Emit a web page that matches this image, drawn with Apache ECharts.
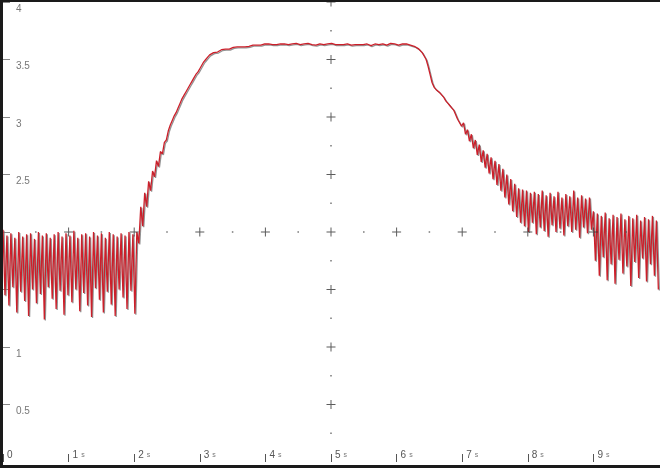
<!DOCTYPE html>
<html>
<head>
<meta charset="utf-8">
<script src="https://cdn.jsdelivr.net/npm/echarts@6/dist/echarts.min.js"></script>
<style>html,body{margin:0;padding:0;background:#fff;}#c{width:660px;height:468px;}</style>
</head>
<body>
<div id="c"></div>
<script>
// sampling step of the trace, seconds
const SAMPLE_STEP = 0.03;
// trace values (V), segment by segment
const baseline = [2.02,1.45,1.97,1.36,1.99,1.52,1.95,1.30,2.00,1.48,1.96,1.40,1.98,1.27,1.99,1.50,1.94,1.38,2.00,1.46,
  1.97,1.24,1.99,1.52,1.95,1.42,1.98,1.33,2.00,1.49,1.96,1.28,1.99,1.45,1.97,1.39,2.01,1.50,1.95,1.31,
  1.98,1.47,1.99,1.36,1.96,1.26,2.00,1.51,1.97,1.41,1.99,1.30,1.95,1.48,2.00,1.37,1.98,1.27,1.96,1.50,
  1.99,1.43,1.97,1.33,2.00,1.49,1.98,1.29,2.00];
const rise = [1.90,2.22,2.05,2.34,2.22,2.44,2.36,2.53,2.48,2.62,
  2.57,2.70,2.68,2.78,2.80,2.88,2.93,2.97,3.01,3.04,
  3.08,3.12,3.16,3.19,3.22,3.25,3.28,3.31,3.34,3.37,
  3.39,3.42,3.45,3.48,3.50,3.52,3.54,3.555,3.56,3.57,
  3.565,3.58,3.585,3.58,3.59,3.595,3.59,3.60,3.605];
const plateau = [3.60,3.61,3.605,3.61,3.615,3.61,3.62,3.615,3.62,3.625,3.62,3.625,3.63,3.625,3.63,3.635,
  3.63,3.635,3.64,3.63,3.635,3.63,3.64,3.635,3.63,3.635,
  3.64,3.63,3.625,3.635,3.63,3.64,3.635,3.63,3.625,3.635,
  3.63,3.64,3.635,3.63,3.635,3.625,3.63,3.635,3.64,3.63,
  3.625,3.635,3.63,3.64,3.635,3.63,3.625,3.63,3.635,3.63,
  3.64,3.635,3.63,3.625,3.635,3.63,3.625,3.63,3.635,3.63,
  3.625,3.635,3.63,3.62,3.63,3.635,3.625,3.63,3.64,3.635,
  3.63,3.625,3.635,3.64,3.63,3.635,3.63,3.625,3.63,3.635,
  3.64,3.635,3.63,3.625,3.62,3.615,3.605,3.595];
const fall = [3.58,3.56,3.53,3.50,3.44,3.37,3.30,3.26,3.24,3.23,3.21,3.19,3.17,3.14,3.12,3.10,3.08,3.06,
  3.05,2.98,2.99,2.92,2.95,2.85,2.89,2.79,2.85,2.73,2.80,2.67,2.76,2.61,2.71,2.56,2.68,2.51,2.65,2.46,
  2.62,2.41,2.59,2.36,2.55,2.30,2.50,2.24,2.46,2.18,2.42,2.13,2.38,2.08];
const bandHigh = [2.37,2.05,2.36,2.00,2.34,2.08,2.35,1.98,2.33,2.04,2.36,2.01,2.32,1.96,2.34,2.06,2.31,2.00,
  2.35,2.03,2.30,1.97,2.33,2.05,2.31,2.00,2.36,2.02,2.30,1.95,2.32,2.04,2.29,1.99,2.30,2.02];
const bandLow = [2.18,1.75,2.16,1.62,2.14,1.78,2.17,1.58,2.12,1.72,2.15,1.55,2.13,1.76,2.16,1.64,2.11,1.70,
  2.14,1.53,2.12,1.74,2.15,1.60,2.10,1.77,2.13,1.57,2.11,1.72,2.14,1.62,2.10,1.50];

// axis ticks / crosshair graticule
const yTickLabels = {'4':'4','3.5':'3.5','3':'3','2.5':'2.5','1':'1','0.5':'0.5'};
const crossPlusY = [0.5,1,1.5,2.5,3,3.5,4];
const crossDotY = [0.25,0.75,1.25,1.75,2.25,2.75,3.25,3.75];
const crossPlusX = [1,2,3,4,5,6,7,8,9];
const crossDotX = [0.5,1.5,2.5,3.5,4.5,5.5,6.5,7.5,8.5,9.5];
const CENTER_X = 5, CENTER_Y = 2;

const trace = [].concat(baseline, rise, plateau, fall, bandHigh, bandLow);
const traceData = trace.map((v, i) => [Math.round(i * SAMPLE_STEP * 1000) / 1000, v]);

const plusData = crossPlusY.map(y => [CENTER_X, y]).concat(crossPlusX.map(x => [x, CENTER_Y]));
const dotData = crossDotY.map(y => [CENTER_X, y]).concat(crossDotX.map(x => [x, CENTER_Y]));

const chart = echarts.init(document.getElementById('c'), null, {renderer: 'canvas'});
chart.setOption({
  animation: false,
  backgroundColor: '#fff',
  grid: {left: 3, right: 1, top: 2, bottom: 6, containLabel: false},
  xAxis: {
    type: 'value', min: 0, max: 10, interval: 1,
    axisLine: {show: false},
    splitLine: {show: false},
    axisTick: {show: true, inside: true, length: 8, lineStyle: {color: '#555', width: 1}},
    axisLabel: {
      inside: true, margin: 2, align: 'left', verticalAlign: 'bottom',
      showMaxLabel: false,
      formatter: v => v === 0 ? '{n|0}' : '{n|' + v + '}{u|s}',
      rich: {
        n: {fontFamily: 'Liberation Sans, Arial, sans-serif', fontSize: 10, color: '#555', padding: [0, 0, 0, 4]},
        u: {fontFamily: 'Liberation Sans, Arial, sans-serif', fontSize: 7, color: '#777', padding: [0, 0, 0, 3]}
      }
    }
  },
  yAxis: {
    type: 'value', min: 0, max: 4, interval: 0.5,
    axisLine: {show: false},
    splitLine: {show: false},
    axisTick: {show: true, inside: true, length: 7, lineStyle: {color: '#888', width: 1}},
    axisLabel: {
      inside: true, margin: 13, verticalAlign: 'top', padding: [2, 0, 0, 0],
      fontFamily: 'Liberation Sans, Arial, sans-serif', fontSize: 10,
      showMaxLabel: true, showMinLabel: false,
      formatter: v => yTickLabels[String(v)] || '',
      color: v => (v === 4 ? '#8a3a5e' : '#777')
    }
  },
  graphic: [
    {type: 'rect', shape: {x: 0, y: 0, width: 3, height: 468}, style: {fill: '#1a1a1a'}, z: 100},
    {type: 'rect', shape: {x: 0, y: 0, width: 660, height: 2}, style: {fill: '#1a1a1a'}, z: 100},
    {type: 'rect', shape: {x: 0, y: 465, width: 660, height: 3}, style: {fill: '#1a1a1a'}, z: 100}
  ],
  series: [
    {
      type: 'line', data: traceData, showSymbol: false, symbol: 'none',
      lineStyle: {color: '#cc1f2a', width: 1.3, shadowColor: 'rgba(120,120,120,0.8)', shadowBlur: 0, shadowOffsetX: 1, shadowOffsetY: 1},
      z: 2
    },
    {
      type: 'scatter', data: plusData, symbol: 'path://M0,4h9v1h-9zM4,0h1v9h-1z', symbolSize: [9, 9],
      itemStyle: {color: '#333'}, silent: true, z: 5
    },
    {
      type: 'scatter', data: dotData, symbol: 'rect', symbolSize: [1.5, 1.5],
      itemStyle: {color: '#555'}, silent: true, z: 5
    }
  ]
});
</script>
</body>
</html>
